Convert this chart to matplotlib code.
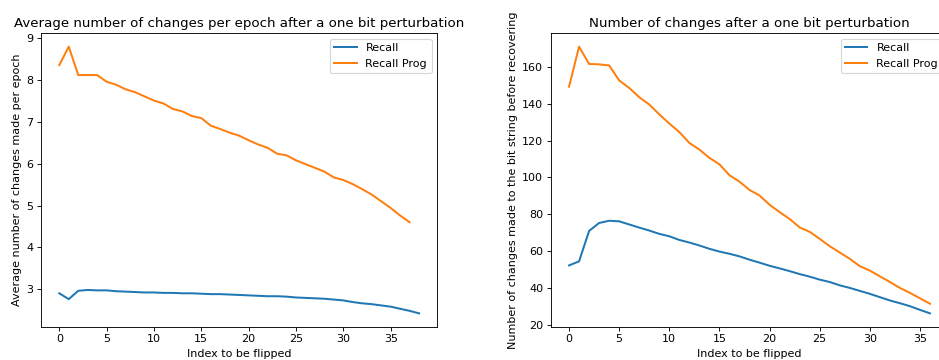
import matplotlib
matplotlib.use("Agg")
import matplotlib.pyplot as plt

# Left chart: average number of changes per epoch
left_recall = [2.90, 2.76, 2.96, 2.98, 2.97, 2.97, 2.95, 2.94, 2.93, 2.92,
               2.92, 2.91, 2.91, 2.90, 2.90, 2.89, 2.88, 2.88, 2.87, 2.86,
               2.85, 2.84, 2.83, 2.83, 2.82, 2.80, 2.79, 2.78, 2.77, 2.75,
               2.73, 2.69, 2.66, 2.64, 2.61, 2.58, 2.53, 2.48, 2.42]
left_prog = [8.36, 8.80, 8.12, 8.12, 8.12, 7.96, 7.89, 7.78, 7.71, 7.61,
             7.51, 7.44, 7.31, 7.25, 7.14, 7.09, 6.91, 6.83, 6.74, 6.67,
             6.56, 6.46, 6.38, 6.24, 6.20, 6.08, 5.99, 5.90, 5.81, 5.67,
             5.61, 5.51, 5.39, 5.26, 5.10, 4.94, 4.76, 4.60]

# Right chart: number of changes before recovering
right_recall = [52.3, 54.5, 71.0, 75.3, 76.5, 76.2, 74.5, 72.8, 71.2, 69.4,
                68.1, 66.1, 64.7, 63.1, 61.3, 59.8, 58.6, 57.2, 55.4, 53.8,
                52.1, 50.7, 49.2, 47.6, 46.2, 44.6, 43.3, 41.5, 40.1, 38.5,
                36.9, 35.1, 33.3, 31.8, 30.2, 28.2, 26.3]
right_prog = [149.2, 170.9, 161.5, 161.3, 160.7, 152.6, 148.5, 143.5, 139.5, 134.2,
              129.2, 124.6, 118.7, 115.1, 110.6, 107.1, 101.2, 97.7, 93.2, 90.2,
              85.2, 81.2, 77.5, 72.9, 70.5, 66.7, 62.7, 59.3, 55.9, 51.9,
              49.5, 46.4, 43.3, 40.1, 37.4, 34.5, 31.5]

series_labels = ["Recall", "Recall Prog"]

W, H = 939, 360
DPI = 80
fig = plt.figure(figsize=(W / DPI, H / DPI), dpi=DPI)

bottom = (H - 326.7) / H
height = (326.7 - 33.3) / H
ax1 = fig.add_axes([41.3 / W, bottom, 395.8 / W, height])
ax2 = fig.add_axes([551.0 / W, bottom, 397.0 / W, height])

LW = 1.8
ax1.plot(range(len(left_recall)), left_recall, label=series_labels[0], lw=LW)
ax1.plot(range(len(left_prog)), left_prog, label=series_labels[1], lw=LW)
ax1.set_title("Average number of changes per epoch after a one bit perturbation")
ax1.set_xlabel("Index to be flipped")
ax1.set_ylabel("Average number of changes made per epoch")
ax1.legend(loc="upper right")

ax2.plot(range(len(right_recall)), right_recall, label=series_labels[0], lw=LW)
ax2.plot(range(len(right_prog)), right_prog, label=series_labels[1], lw=LW)
ax2.set_title("Number of changes after a one bit perturbation")
ax2.set_xlabel("Index to be flipped")
ax2.set_ylabel("Number of changes made to the bit string before recovering")
ax2.legend(loc="upper right")

fig.savefig("out.png", dpi=DPI)
